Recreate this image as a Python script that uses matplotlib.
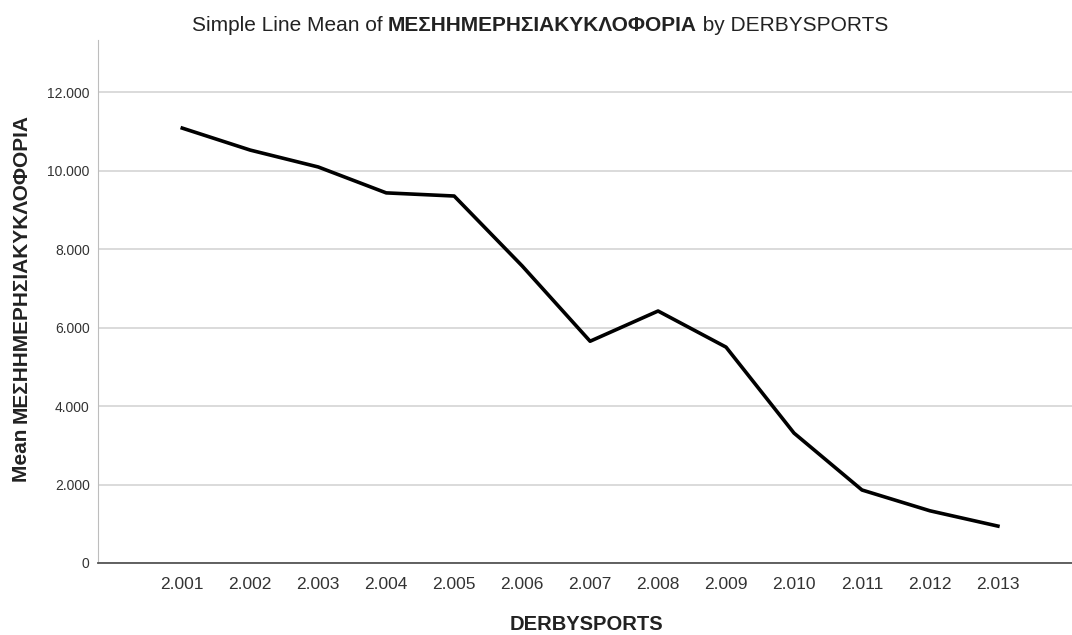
import matplotlib
matplotlib.use("Agg")
import matplotlib.pyplot as plt
from matplotlib.ticker import FuncFormatter

plt.rcParams['font.family'] = ['Liberation Sans', 'DejaVu Sans']

# DATA
years = ["2.001", "2.002", "2.003", "2.004", "2.005", "2.006", "2.007",
         "2.008", "2.009", "2.010", "2.011", "2.012", "2.013"]
mean_values = [11080, 10520, 10090, 9430, 9350, 7570, 5650,
               6420, 5500, 3310, 1860, 1330, 940]
y_ticks = [0, 2000, 4000, 6000, 8000, 10000, 12000]

var_name = "ΜΕΣΗΗΜΕΡΗΣΙΑΚΥΚΛΟΦΟΡΙΑ"

W, H = 1072, 635
fig = plt.figure(figsize=(W / 100, H / 100), dpi=100)
ax = fig.add_axes([98 / W, (H - 563) / H, (W - 98) / W, (563 - 40) / H])

x = list(range(len(years)))
ax.plot(x, mean_values, color='black', linewidth=2.6, solid_joinstyle='round', zorder=3)

ax.set_xlim(-1.24, 13.09)
ax.set_ylim(0, 13325)
ax.set_xticks(x)
ax.set_xticklabels(years)
ax.set_yticks(y_ticks)
ax.yaxis.set_major_formatter(FuncFormatter(lambda v, p: f"{int(v):,}".replace(",", ".")))
ax.tick_params(length=0, colors='#333333')
ax.tick_params(axis='x', pad=10, labelsize=12.5)
ax.tick_params(axis='y', pad=6, labelsize=10)

ax.grid(axis='y', color='#d4d4d4', linewidth=1.2, zorder=0)
ax.set_axisbelow(True)
for side in ['top', 'right']:
    ax.spines[side].set_visible(False)
ax.spines['left'].set_color('#bdbdbd')
ax.spines['bottom'].set_color('#555555')
ax.spines['bottom'].set_linewidth(1.3)


# TEKS CAMPURAN NORMAL / BOLD
def mixed_text(parts, cx, cy, rotation=0, size=11):
    r = fig.canvas.get_renderer()
    texts = []
    lengths = []
    for s, w in parts:
        t = fig.text(0, 0, s, fontsize=size, fontweight=w, rotation=rotation,
                     ha='left', va='baseline', rotation_mode='anchor', color='#222222')
        bb = t.get_window_extent(r)
        lengths.append(bb.width if rotation == 0 else bb.height)
        texts.append(t)
    pos = -sum(lengths) / 2
    for t, l in zip(texts, lengths):
        if rotation == 0:
            t.set_position(((cx + pos) / W, cy / H))
        else:
            t.set_position((cx / W, (cy + pos) / H))
        pos += l


mixed_text([("Simple Line Mean of ", 'normal'), (var_name, 'bold'),
            (" by DERBYSPORTS", 'normal')], 540, H - 31, size=15)
mixed_text([("Mean ", 'bold'), (var_name, 'bold')], 27, H - 298, rotation=90, size=15)
fig.text(586 / W, 5 / H, "DERBYSPORTS", fontsize=14.5, fontweight='bold',
         ha='center', va='baseline', color='#222222')

fig.savefig("out.png", dpi=100)
